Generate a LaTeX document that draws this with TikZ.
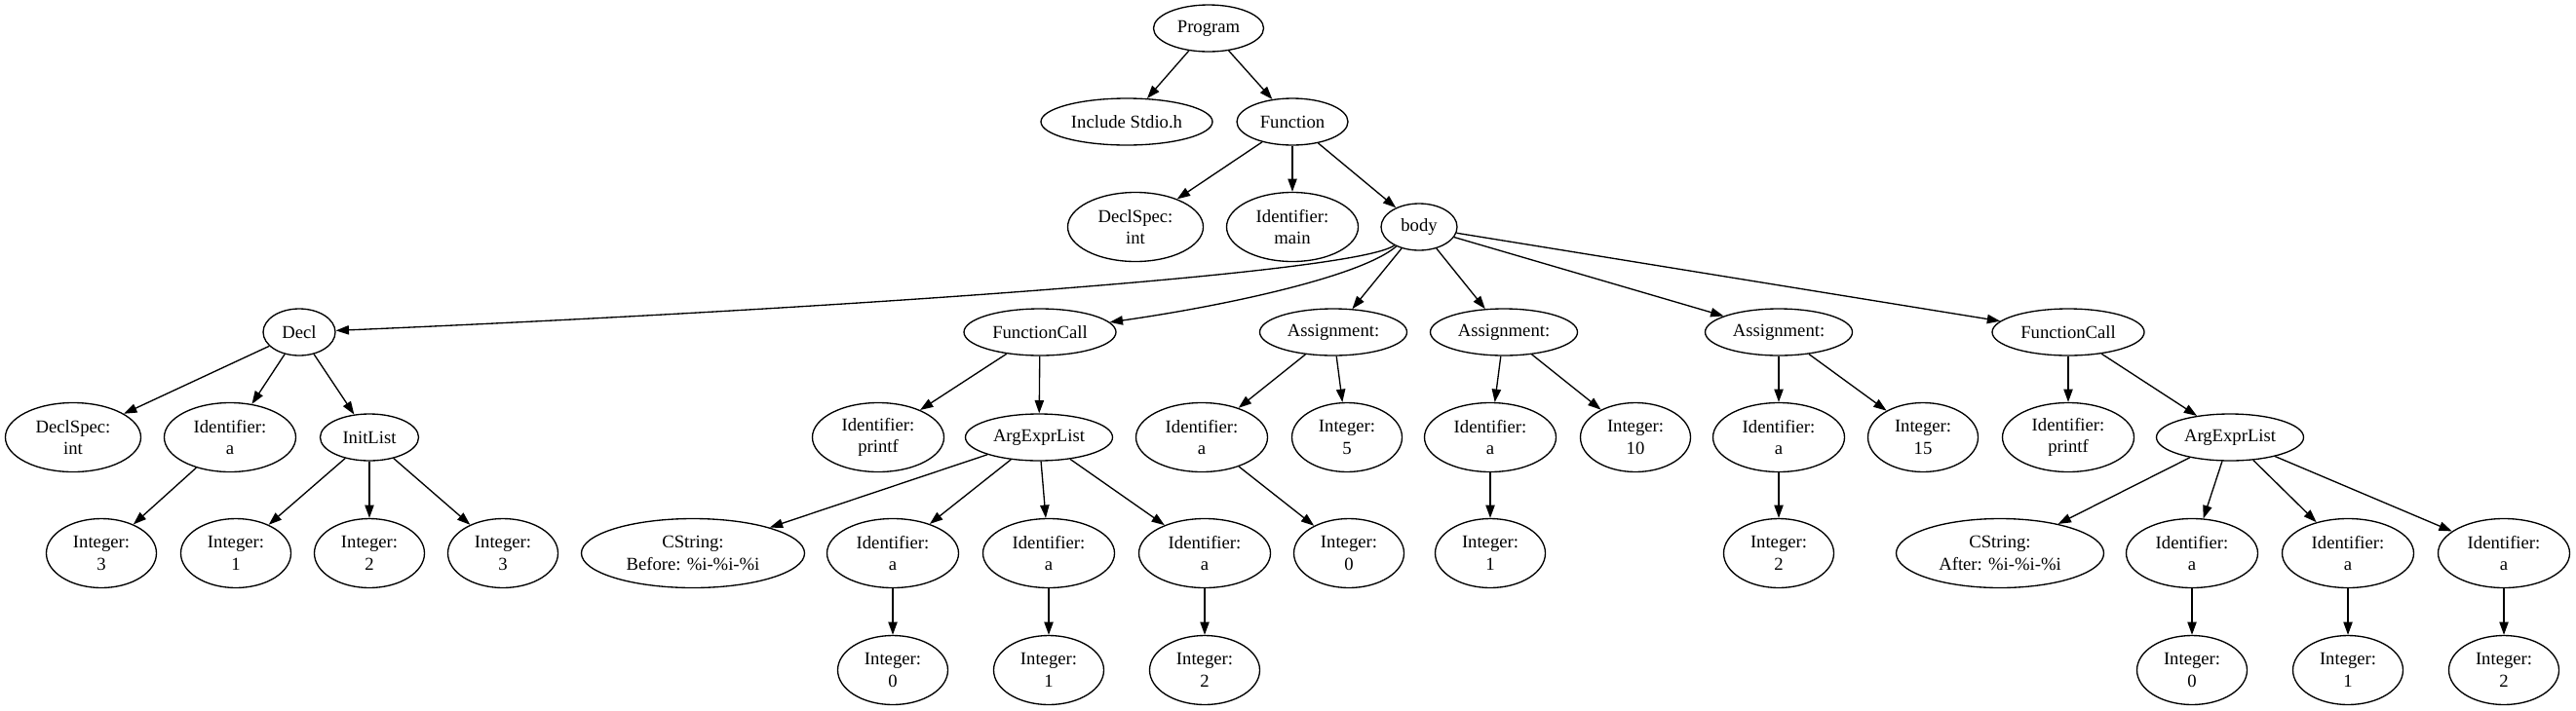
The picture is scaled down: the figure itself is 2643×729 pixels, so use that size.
\documentclass[tikz,border=0pt]{standalone}
\usepackage{fontspec}
\setmainfont{Liberation Serif}
\usetikzlibrary{shapes.geometric,arrows.meta}
\begin{document}
\begin{tikzpicture}[x=0.75pt,y=-0.75pt,
  base/.style={ellipse,draw,line width=1pt,inner sep=0pt,align=center,
    font=\fontsize{14}{16.8}\selectfont},
  one/.style={base,minimum height=36pt,minimum width=#1},
  two/.style={base,minimum height=53.25pt,minimum width=#1},
  arr/.style={line width=1pt,-{Triangle[length=10pt,width=7pt]}}]
\fill[white] (0,0) rectangle (2643,729);
\useasboundingbox (0,0) rectangle (2643,729);
% rank 0-2
\node[one=84.75pt] (prog) at (1240,29) {Program};
\node[one=132pt] (inc) at (1156,125) {Include Stdio.h};
\node[one=85.5pt] (func) at (1326,125) {Function};
\node[two=104.25pt] (dstop) at (1165,233) {DeclSpec:\\int};
\node[two=101.25pt] (idmain) at (1326,233) {Identifier:\\main};
\node[one=58.5pt] (body) at (1456,233) {body};
% rank 3
\node[one=55.5pt] (decl) at (307,341) {Decl};
\node[one=117pt] (fc1) at (1067,341) {FunctionCall};
\node[one=113.25pt] (as1) at (1368,341) {Assignment:};
\node[one=113.25pt] (as2) at (1543,341) {Assignment:};
\node[one=113.25pt] (as3) at (1825,341) {Assignment:};
\node[one=117pt] (fc2) at (2122,341) {FunctionCall};
% rank 4
\node[two=104.25pt] (ds) at (75,449) {DeclSpec:\\int};
\node[two=101.25pt] (ida) at (236,449) {Identifier:\\a};
\node[one=75.75pt] (init) at (379,449) {InitList};
\node[two=101.25pt] (pf1) at (901,449) {Identifier:\\printf};
\node[one=113.25pt] (ael1) at (1066,449) {ArgExprList};
\node[two=101.25pt] (asa1) at (1233,449) {Identifier:\\a};
\node[two=84.75pt] (int5) at (1382,449) {Integer:\\5};
\node[two=101.25pt] (asa2) at (1529,449) {Identifier:\\a};
\node[two=84.75pt] (int10) at (1678,449) {Integer:\\10};
\node[two=101.25pt] (asa3) at (1825,449) {Identifier:\\a};
\node[two=84.75pt] (int15) at (1973,449) {Integer:\\15};
\node[two=101.25pt] (pf2) at (2122,449) {Identifier:\\printf};
\node[one=113.25pt] (ael2) at (2288,449) {ArgExprList};
% rank 5
\node[two=84.75pt] (i3a) at (104,568) {Integer:\\3};
\node[two=84.75pt] (il1) at (242,568) {Integer:\\1};
\node[two=84.75pt] (il2) at (379,568) {Integer:\\2};
\node[two=84.75pt] (il3) at (516,568) {Integer:\\3};
\node[two=171.75pt] (csb) at (711,568) {CString:\\Before: \%i-\%i-\%i};
\node[two=101.25pt] (a1) at (916,568) {Identifier:\\a};
\node[two=101.25pt] (a2) at (1076,568) {Identifier:\\a};
\node[two=101.25pt] (a3) at (1236,568) {Identifier:\\a};
\node[two=84.75pt] (v0) at (1384,568) {Integer:\\0};
\node[two=84.75pt] (v1) at (1529,568) {Integer:\\1};
\node[two=84.75pt] (v2) at (1825,568) {Integer:\\2};
\node[two=159.75pt] (csa) at (2052,568) {CString:\\After: \%i-\%i-\%i};
\node[two=101.25pt] (b1) at (2249,568) {Identifier:\\a};
\node[two=101.25pt] (b2) at (2409,568) {Identifier:\\a};
\node[two=101.25pt] (b3) at (2569,568) {Identifier:\\a};
% rank 6
\node[two=84.75pt] (a1i) at (916,688) {Integer:\\0};
\node[two=84.75pt] (a2i) at (1076,688) {Integer:\\1};
\node[two=84.75pt] (a3i) at (1236,688) {Integer:\\2};
\node[two=84.75pt] (b1i) at (2249,688) {Integer:\\0};
\node[two=84.75pt] (b2i) at (2409,688) {Integer:\\1};
\node[two=84.75pt] (b3i) at (2569,688) {Integer:\\2};
% edges
\draw[arr] (prog) -- (inc);
\draw[arr] (prog) -- (func);
\draw[arr] (func) -- (dstop);
\draw[arr] (func) -- (idmain);
\draw[arr] (func) -- (body);
\draw[arr] (body) .. controls (1390,282) and (800,320) .. (decl);
\draw[arr] (body) .. controls (1395,285) and (1250,315) .. (fc1);
\draw[arr] (body) -- (as1);
\draw[arr] (body) -- (as2);
\draw[arr] (body) -- (as3);
\draw[arr] (body) -- (fc2);
\draw[arr] (decl) -- (ds);
\draw[arr] (decl) -- (ida);
\draw[arr] (decl) -- (init);
\draw[arr] (ida) -- (i3a);
\draw[arr] (init) -- (il1);
\draw[arr] (init) -- (il2);
\draw[arr] (init) -- (il3);
\draw[arr] (fc1) -- (pf1);
\draw[arr] (fc1) -- (ael1);
\draw[arr] (ael1) -- (csb);
\draw[arr] (ael1) -- (a1);
\draw[arr] (ael1) -- (a2);
\draw[arr] (ael1) -- (a3);
\draw[arr] (a1) -- (a1i);
\draw[arr] (a2) -- (a2i);
\draw[arr] (a3) -- (a3i);
\draw[arr] (as1) -- (asa1);
\draw[arr] (as1) -- (int5);
\draw[arr] (asa1) -- (v0);
\draw[arr] (as2) -- (asa2);
\draw[arr] (as2) -- (int10);
\draw[arr] (asa2) -- (v1);
\draw[arr] (as3) -- (asa3);
\draw[arr] (as3) -- (int15);
\draw[arr] (asa3) -- (v2);
\draw[arr] (fc2) -- (pf2);
\draw[arr] (fc2) -- (ael2);
\draw[arr] (ael2) -- (csa);
\draw[arr] (ael2) -- (b1);
\draw[arr] (ael2) -- (b2);
\draw[arr] (ael2) -- (b3);
\draw[arr] (b1) -- (b1i);
\draw[arr] (b2) -- (b2i);
\draw[arr] (b3) -- (b3i);
\end{tikzpicture}
\end{document}
